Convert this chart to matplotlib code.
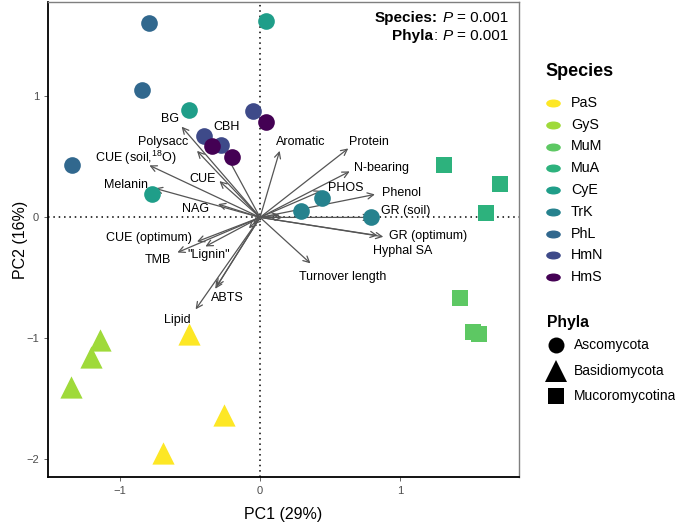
import matplotlib.pyplot as plt
import numpy as np
from matplotlib.path import Path
from matplotlib.transforms import Affine2D

plt.rcParams['font.family'] = ['Liberation Sans', 'DejaVu Sans']
plt.rcParams['mathtext.fontset'] = 'custom'
plt.rcParams['mathtext.rm'] = 'Liberation Sans'
plt.rcParams['mathtext.it'] = 'Liberation Sans:italic'
plt.rcParams['mathtext.bf'] = 'Liberation Sans:bold'

# species / phyla
species = ['PaS', 'GyS', 'MuM', 'MuA', 'CyE', 'TrK', 'PhL', 'HmN', 'HmS']
colors = ['#FDE725', '#9FDA3A', '#5DC863', '#2DB27D', '#1F9E89',
          '#26828E', '#31688E', '#3E4A89', '#440154']
phylum = ['Basidiomycota', 'Basidiomycota', 'Mucoromycotina', 'Mucoromycotina',
          'Ascomycota', 'Ascomycota', 'Ascomycota', 'Ascomycota', 'Ascomycota']
phyla = ['Ascomycota', 'Basidiomycota', 'Mucoromycotina']
markers = {'Ascomycota': 'o', 'Basidiomycota': '^', 'Mucoromycotina': 's'}
msize = {'Ascomycota': 12, 'Basidiomycota': 16, 'Mucoromycotina': 12}

# sample scores (PC1, PC2), 3 replicates per species
pc1 = {
    'PaS': [-0.51, -0.26, -0.69],
    'GyS': [-1.14, -1.21, -1.35],
    'MuM': [1.43, 1.52, 1.56],
    'MuA': [1.31, 1.71, 1.61],
    'CyE': [0.04, -0.51, -0.77],
    'TrK': [0.29, 0.44, 0.79],
    'PhL': [-0.79, -0.84, -1.34],
    'HmN': [-0.05, -0.40, -0.28],
    'HmS': [0.04, -0.34, -0.20],
}
pc2 = {
    'PaS': [-0.96, -1.63, -1.95],
    'GyS': [-1.01, -1.15, -1.40],
    'MuM': [-0.67, -0.95, -0.96],
    'MuA': [0.43, 0.28, 0.04],
    'CyE': [1.62, 0.89, 0.19],
    'TrK': [0.05, 0.16, 0.00],
    'PhL': [1.61, 1.05, 0.43],
    'HmN': [0.88, 0.67, 0.60],
    'HmS': [0.79, 0.59, 0.50],
}

# trait loadings
traits = ['BG', 'Polysacc', 'CBH', 'CUE (soil,$^{18}$O)', 'CUE', 'Melanin', 'NAG',
          'Aromatic', 'Protein', 'N-bearing', 'PHOS', 'Phenol', 'GR (soil)',
          'GR (optimum)', 'Hyphal SA', 'Turnover length', 'CUE (optimum)',
          '"Lignin"', 'TMB', 'ABTS', 'Lipid', '', '', '', '', '']
load1 = [-0.56, -0.45, -0.29, -0.79, -0.29, -0.75, -0.30, 0.14, 0.63, 0.64, 0.44,
         0.82, 0.79, 0.88, 0.84, 0.36, -0.45, -0.39, -0.59, -0.31, -0.46,
         -0.32, -0.08, -0.05, 0.14, 0.16]
load2 = [0.75, 0.55, 0.62, 0.43, 0.30, 0.24, 0.11, 0.55, 0.57, 0.38, 0.22,
         0.19, 0.00, -0.16, -0.15, -0.38, -0.20, -0.24, -0.29, -0.57, -0.76,
         -0.59, -0.09, -0.06, 0.02, 0.00]
# label positions (placed next to arrow tips)
lab_x = [-0.64, -0.69, -0.24, -0.89, -0.41, -0.96, -0.46, 0.29, 0.78, 0.87, 0.61,
         1.01, 1.04, 1.20, 1.02, 0.59, -0.79, -0.37, -0.73, -0.23, -0.59]
lab_y = [0.81, 0.62, 0.75, 0.49, 0.32, 0.27, 0.07, 0.62, 0.62, 0.41, 0.24,
         0.20, 0.05, -0.15, -0.28, -0.49, -0.17, -0.31, -0.35, -0.665, -0.85]

fig = plt.figure(figsize=(6.75, 5.26), dpi=100)
ax = fig.add_axes([0.0711, 0.0932, 0.698, 0.903])

ax.axhline(0, color='black', ls=(0, (1, 2.5)), lw=1.1, zorder=1)
ax.axvline(0, color='black', ls=(0, (1, 2.5)), lw=1.1, zorder=1)

for i in range(len(traits)):
    ax.annotate('', xy=(load1[i], load2[i]), xytext=(0, 0),
                arrowprops=dict(arrowstyle='->', color='#555555', lw=0.9,
                                shrinkA=0, shrinkB=0, mutation_scale=11),
                zorder=2)
for i in range(len(lab_x)):
    ax.text(lab_x[i], lab_y[i], traits[i], ha='center', va='center',
            fontsize=9, color='black', zorder=3)

for sp, c, ph in zip(species, colors, phylum):
    ax.scatter(pc1[sp], pc2[sp], color=c, marker=markers[ph],
               s=msize[ph] ** 2, linewidths=0, zorder=4)

ax.set_xlim(-1.514, 1.85)
ax.set_ylim(-2.145, 1.78)
ax.set_xticks([-1, 0, 1])
ax.set_yticks([-2, -1, 0, 1])
ax.set_xticklabels(['\u22121', '0', '1'])
ax.set_yticklabels(['\u22122', '\u22121', '0', '1'])
ax.tick_params(labelsize=8, colors='#4d4d4d', length=3, width=0.6)
ax.set_xlabel('PC1 (29%)', fontsize=11.5, labelpad=8)
ax.set_ylabel('PC2 (16%)', fontsize=11.5, labelpad=-1)
for s in ['top', 'right']:
    ax.spines[s].set_color('#7f7f7f')
    ax.spines[s].set_linewidth(1.0)
for s in ['left', 'bottom']:
    ax.spines[s].set_color('black')
    ax.spines[s].set_linewidth(1.3)

# stats text, built right to left from pieces; gap = space to the right of a piece
r = fig.canvas.get_renderer()


def rich_right(y, parts, fs=11):
    off = 0
    for s, kw, gap in reversed(parts):
        off += gap
        t = ax.annotate(s, (0.977, y), xycoords='axes fraction',
                        xytext=(-off, 0), textcoords='offset pixels',
                        ha='right', va='center', fontsize=fs, **kw)
        off += t.get_window_extent(r).width


rich_right(0.966, [('Species:', {'weight': 'bold'}, 5),
                   ('P', {'style': 'italic'}, 4),
                   ('= 0.001', {}, 0)])
rich_right(0.928, [('Phyla', {'weight': 'bold'}, 0.5),
                   (':', {}, 5),
                   ('P', {'style': 'italic'}, 4),
                   ('= 0.001', {}, 0)])

# legends drawn in pixel coordinates
lax = fig.add_axes([0, 0, 1, 1], zorder=5)
lax.set_xlim(0, 675)
lax.set_ylim(526, 0)
lax.axis('off')

ell = Path.unit_circle().transformed(Affine2D().scale(1.0, 0.5))
lax.text(545, 72, 'Species', fontsize=13, weight='bold', va='center', ha='left')
for i, (sp, c) in enumerate(zip(species, colors)):
    yy = 103 + 21.75 * i
    lax.plot(553, yy, marker=ell, color=c, ms=9.5, ls='')
    lax.text(571, yy, sp, fontsize=10.3, va='center', ha='left')

lax.text(547, 323, 'Phyla', fontsize=11.3, weight='bold', va='center', ha='left')
leg_ms = {'Ascomycota': 11.5, 'Basidiomycota': 15.5, 'Mucoromycotina': 12}
for i, p in enumerate(phyla):
    yy = 345 + 25.5 * i
    lax.plot(556, yy, marker=markers[p], color='black', ms=leg_ms[p], ls='',
             markeredgewidth=0)
    lax.text(574, yy, p, fontsize=10, va='center', ha='left')

fig.savefig('out.png', dpi=100)
